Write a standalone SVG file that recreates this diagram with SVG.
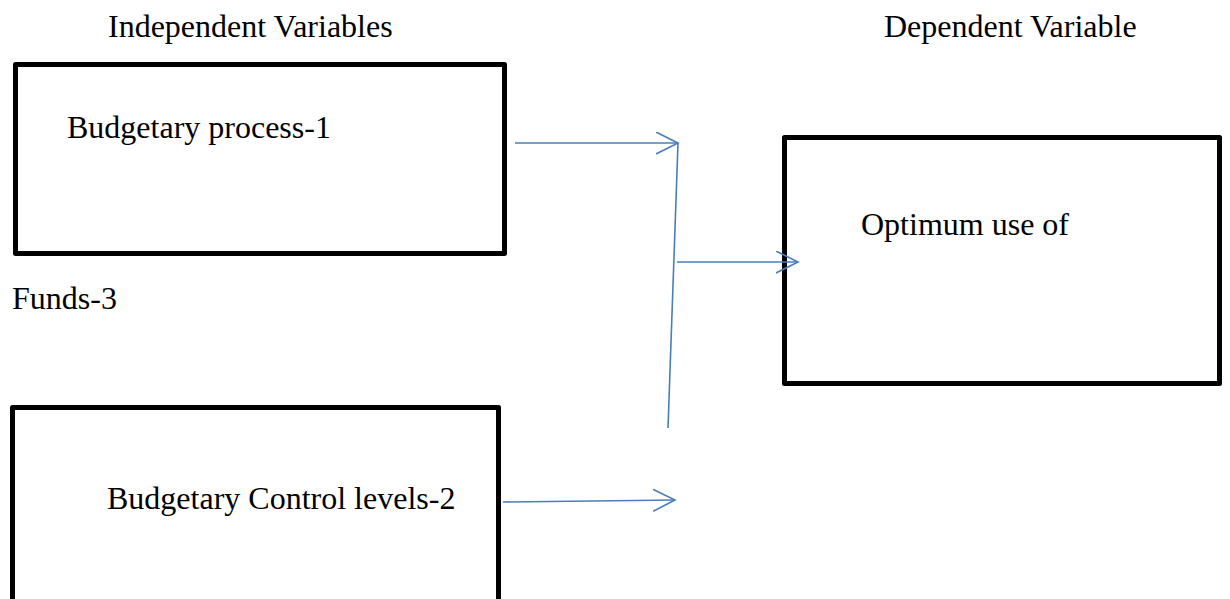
<svg xmlns="http://www.w3.org/2000/svg" width="1230" height="599" viewBox="0 0 1230 599">
<style>
.box{fill:#fff;stroke:#000;stroke-width:5;stroke-linejoin:round}
.t{font-family:"Liberation Serif","Times New Roman",serif;font-size:32px;fill:#000}
.c{fill:none;stroke:#4a7ebb;stroke-width:1.6}
</style>
<defs>
<marker id="ah" markerUnits="userSpaceOnUse" markerWidth="30" markerHeight="30" refX="22" refY="11" orient="auto" viewBox="0 0 30 30">
<path d="M0,0 L22,11 L0,22" fill="none" stroke="#4a7ebb" stroke-width="1.6"/>
</marker>
</defs>
<rect width="1230" height="599" fill="#fff"/>
<text class="t" x="108" y="37">Independent Variables</text>
<text class="t" x="884" y="37">Dependent Variable</text>
<text class="t" x="12" y="309">Funds-3</text>
<g id="n1">
<rect class="box" x="15.5" y="64.5" width="489" height="189"/>
<text class="t" x="67" y="138">Budgetary process-1</text>
</g>
<g id="n2">
<rect class="box" x="12.5" y="407.5" width="486" height="200"/>
<text class="t" x="107" y="509">Budgetary Control levels-2</text>
</g>
<g id="n3">
<rect class="box" x="784.5" y="137.5" width="435" height="246"/>
<text class="t" x="861" y="235">Optimum use of</text>
</g>
<g id="connectors">
<line class="c" x1="515" y1="143" x2="678" y2="143" marker-end="url(#ah)"/>
<line class="c" x1="678" y1="143" x2="668" y2="428"/>
<line class="c" x1="677" y1="262" x2="798" y2="262" marker-end="url(#ah)"/>
<line class="c" x1="503" y1="502" x2="675" y2="500" marker-end="url(#ah)"/>
</g>
</svg>
